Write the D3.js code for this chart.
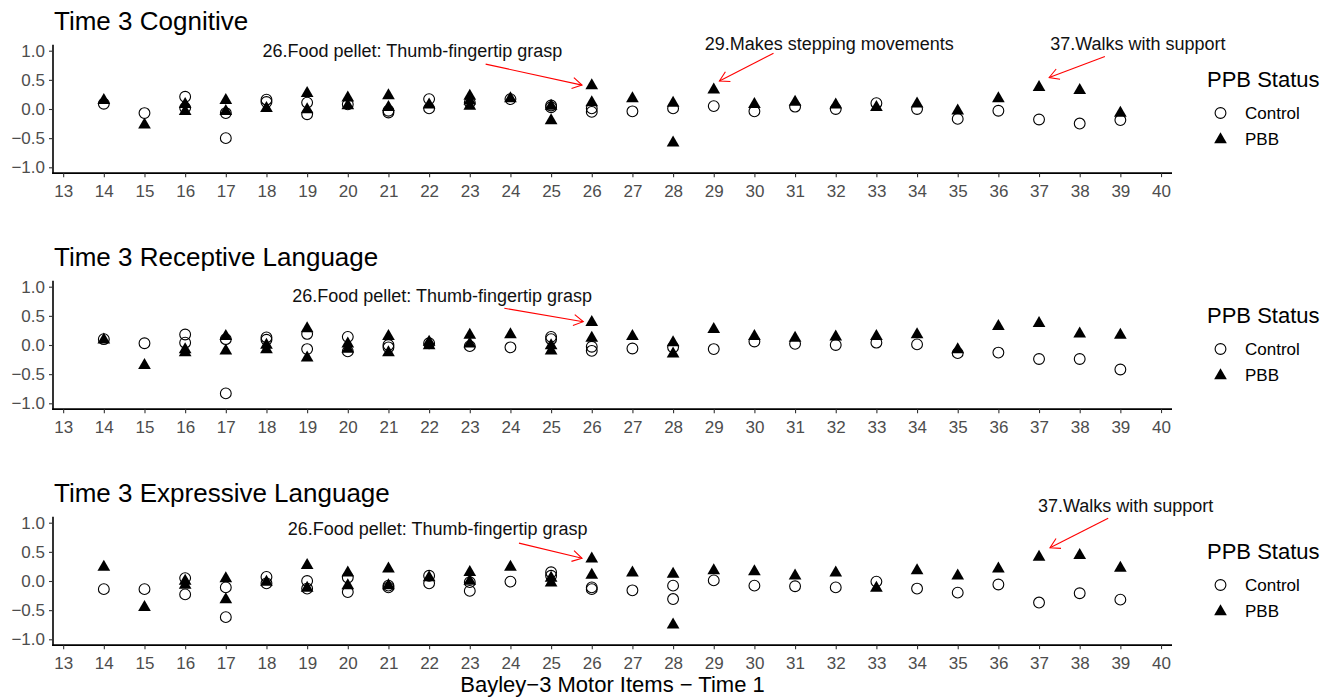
<!DOCTYPE html>
<html><head><meta charset="utf-8">
<script src="https://cdn.jsdelivr.net/npm/d3@7"></script>
<style>
body{margin:0;background:#fff}
text{font-family:"Liberation Sans",Arial,Helvetica,sans-serif}
</style>
</head><body><svg id="c" width="1337" height="699"></svg>
<script>
// ---------- data ----------
const xTicks = d3.range(13, 41);
const yTicks = [-1, -0.5, 0, 0.5, 1];
const panelTitles = ["Time 3 Cognitive", "Time 3 Receptive Language", "Time 3 Expressive Language"];
const seriesNames = ["Control", "PBB"];
const legendTitle = "PPB Status";
const xAxisTitle = "Bayley\u22123 Motor Items \u2212 Time 1";

// [item, value]
const cognitiveControl = [[14,0.09],[15,-0.07],[16,0.21],[16,0.02],[17,-0.07],[17,-0.5],[18,0.16],[18,0.12],[19,0.11],[19,-0.09],[20,0.08],[21,-0.03],[21,-0.06],[22,0.17],[22,0.01],[23,0.11],[24,0.17],[25,0.06],[25,0.03],[26,0.01],[26,-0.05],[27,-0.04],[28,0.01],[29,0.05],[30,-0.04],[31,0.04],[32,0.0],[33,0.1],[34,0.0],[35,-0.17],[36,-0.03],[37,-0.18],[38,-0.25],[39,-0.19]];
const cognitivePBB = [[14,0.15],[15,-0.27],[16,0.08],[16,-0.04],[17,0.15],[17,-0.04],[18,0.01],[19,0.27],[19,-0.01],[20,0.19],[20,0.06],[21,0.23],[21,0.03],[22,0.07],[23,0.22],[23,0.14],[23,0.05],[24,0.18],[25,0.05],[25,-0.2],[26,0.4],[26,0.11],[27,0.18],[28,0.1],[28,-0.58],[29,0.33],[30,0.08],[31,0.12],[32,0.07],[33,0.03],[34,0.09],[35,-0.03],[36,0.18],[37,0.37],[38,0.32],[39,-0.07]];

const receptiveControl = [[14,0.1],[15,0.03],[16,0.18],[16,0.04],[17,0.1],[17,-0.83],[18,0.13],[18,0.09],[19,0.19],[19,-0.07],[20,0.14],[20,-0.11],[21,0.0],[21,-0.04],[22,0.03],[23,-0.02],[24,-0.04],[25,0.14],[25,0.1],[26,-0.03],[26,-0.1],[27,-0.06],[28,-0.04],[29,-0.07],[30,0.06],[31,0.02],[32,0.0],[33,0.04],[34,0.01],[35,-0.14],[36,-0.13],[37,-0.24],[38,-0.24],[39,-0.42]];
const receptivePBB = [[14,0.09],[15,-0.35],[16,-0.08],[16,-0.13],[17,0.15],[17,-0.1],[18,0.0],[18,-0.08],[19,0.28],[19,-0.22],[20,0.02],[20,-0.07],[21,0.15],[21,-0.13],[22,0.05],[22,-0.01],[23,0.17],[23,0.02],[24,0.18],[25,-0.01],[25,-0.1],[26,0.39],[26,0.12],[27,0.15],[28,0.04],[28,-0.15],[29,0.27],[30,0.15],[31,0.12],[32,0.14],[33,0.15],[34,0.18],[35,-0.08],[36,0.32],[37,0.37],[38,0.19],[39,0.17]];

const expressiveControl = [[14,-0.14],[15,-0.14],[16,0.05],[16,-0.23],[17,-0.11],[17,-0.62],[18,0.07],[18,-0.04],[19,0.0],[19,-0.13],[20,0.06],[20,-0.19],[21,-0.08],[21,-0.11],[22,0.09],[22,-0.04],[23,-0.02],[23,-0.17],[24,-0.01],[25,0.15],[25,0.09],[26,-0.11],[26,-0.14],[27,-0.16],[28,-0.08],[28,-0.31],[29,0.01],[30,-0.08],[31,-0.09],[32,-0.11],[33,-0.01],[34,-0.13],[35,-0.2],[36,-0.06],[37,-0.37],[38,-0.21],[39,-0.32]];
const expressivePBB = [[14,0.24],[15,-0.45],[16,0.0],[16,-0.07],[17,0.04],[17,-0.32],[18,-0.02],[19,0.27],[19,-0.12],[20,0.14],[20,-0.08],[21,0.21],[21,-0.08],[22,0.06],[23,0.15],[23,0.0],[24,0.24],[25,0.05],[25,-0.03],[26,0.38],[26,0.1],[27,0.14],[28,0.12],[28,-0.75],[29,0.18],[30,0.16],[31,0.09],[32,0.14],[33,-0.12],[34,0.18],[35,0.09],[36,0.21],[37,0.41],[38,0.44],[39,0.22]];

// annotations in data coordinates: label pos (tx,ty), arrow from (x0,y0) to (x1,y1)
const cognitiveNotes = [
  {label:"26.Food pellet: Thumb-fingertip grasp", tx:21.59, ty:0.89, x0:23.39, y0:0.77, x1:25.76, y1:0.41},
  {label:"29.Makes stepping movements", tx:31.84, ty:1.01, x0:30.47, y0:0.955, x1:29.14, y1:0.48},
  {label:"37.Walks with support", tx:39.43, ty:1.01, x0:38.62, y0:0.90, x1:37.25, y1:0.54}
];
const receptiveNotes = [
  {label:"26.Food pellet: Thumb-fingertip grasp", tx:22.32, ty:0.74, x0:23.85, y0:0.63, x1:25.79, y1:0.40}
];
const expressiveNotes = [
  {label:"26.Food pellet: Thumb-fingertip grasp", tx:22.21, ty:0.79, x0:24.21, y0:0.65, x1:25.76, y1:0.39},
  {label:"37.Walks with support", tx:39.13, ty:1.18, x0:38.70, y0:1.075, x1:37.27, y1:0.57}
];

const panels = [
  {title: panelTitles[0], control: cognitiveControl, pbb: cognitivePBB, notes: cognitiveNotes},
  {title: panelTitles[1], control: receptiveControl, pbb: receptivePBB, notes: receptiveNotes},
  {title: panelTitles[2], control: expressiveControl, pbb: expressivePBB, notes: expressiveNotes}
];

// ---------- layout ----------
const svg = d3.select("#c");
const zeros = [109, 345, 581];
const unit = 58.3;
const x = d3.scaleLinear().domain([12.75, 40.27]).range([53, 1172]);
const tri = d3.symbol().type(d3.symbolTriangle).size(70)();
const fmt = d => d3.format(".1f")(d);

panels.forEach((p, i) => {
  const z = zeros[i];
  const y = d3.scaleLinear().domain([-1.1, 1.1]).range([z + 1.1 * unit, z - 1.1 * unit]);
  const g = svg.append("g");

  // title
  g.append("text").attr("x", 54).attr("y", z - 79).attr("font-size", 26).attr("fill", "#000").text(p.title);

  // x axis
  const xa = g.append("g").attr("transform", `translate(0,${y(-1.1)})`)
    .call(d3.axisBottom(x).tickValues(xTicks).tickSize(4).tickSizeOuter(0).tickPadding(8).tickFormat(d3.format("d")));
  // y axis
  const ya = g.append("g").attr("transform", `translate(${x(12.75)},0)`)
    .call(d3.axisLeft(y).tickValues(yTicks).tickSize(4).tickSizeOuter(0).tickPadding(4).tickFormat(fmt));
  [xa, ya].forEach(a => {
    a.select(".domain").attr("stroke", "#000").attr("stroke-width", 1.6);
    a.selectAll(".tick line").attr("stroke", "#333").attr("stroke-width", 1.1);
    a.selectAll(".tick text").attr("fill", "#4d4d4d").attr("font-size", 17)
      .style("font-family", '"Liberation Sans",Arial,sans-serif');
  });
  // extend x-axis domain to meet the y axis line
  xa.select(".domain").attr("d", `M${x(12.75) - 0.8},0H${x(40.27)}`);
  ya.select(".domain").attr("d", `M0,${y(1.1)}V${y(-1.1) + 0.8}`);

  // points
  g.append("g").selectAll("circle").data(p.control).join("circle")
    .attr("cx", d => x(d[0])).attr("cy", d => y(d[1])).attr("r", 5.4)
    .attr("fill", "none").attr("stroke", "#000").attr("stroke-width", 1.1);
  g.append("g").selectAll("path").data(p.pbb).join("path")
    .attr("d", tri).attr("transform", d => `translate(${x(d[0])},${y(d[1])})`)
    .attr("fill", "#000");

  // annotations
  p.notes.forEach(n => {
    g.append("text").attr("x", x(n.tx)).attr("y", y(n.ty)).attr("text-anchor", "middle")
      .attr("font-size", 18).attr("fill", "#111").text(n.label);
    const X0 = x(n.x0), Y0 = y(n.y0), X1 = x(n.x1), Y1 = y(n.y1);
    const ang = Math.atan2(Y1 - Y0, X1 - X0);
    const L = 11, a = Math.PI / 6;
    g.append("line").attr("x1", X0).attr("y1", Y0).attr("x2", X1).attr("y2", Y1)
      .attr("stroke", "#ff0000").attr("stroke-width", 1.1);
    g.append("path")
      .attr("d", `M${X1 - L * Math.cos(ang - a)},${Y1 - L * Math.sin(ang - a)}L${X1},${Y1}L${X1 - L * Math.cos(ang + a)},${Y1 - L * Math.sin(ang + a)}`)
      .attr("fill", "none").attr("stroke", "#ff0000").attr("stroke-width", 1.1);
  });

  // legend
  const lg = g.append("g");
  lg.append("text").attr("x", 1207).attr("y", z - 22.5).attr("font-size", 22).attr("fill", "#000").text(legendTitle);
  lg.append("circle").attr("cx", 1220.5).attr("cy", z + 4).attr("r", 5.4)
    .attr("fill", "none").attr("stroke", "#000").attr("stroke-width", 1.1);
  lg.append("path").attr("d", tri).attr("transform", `translate(1220.5,${z + 30.5})`).attr("fill", "#000");
  lg.append("text").attr("x", 1245).attr("y", z + 4 + 6).attr("font-size", 17).attr("fill", "#000").text(seriesNames[0]);
  lg.append("text").attr("x", 1245).attr("y", z + 29.5 + 6).attr("font-size", 17).attr("fill", "#000").text(seriesNames[1]);
});

// shared x-axis title
svg.append("text").attr("x", (x(12.75) + x(40.27)) / 2).attr("y", 692).attr("text-anchor", "middle")
  .attr("font-size", 22).attr("fill", "#000").text(xAxisTitle);
</script>
</body></html>
